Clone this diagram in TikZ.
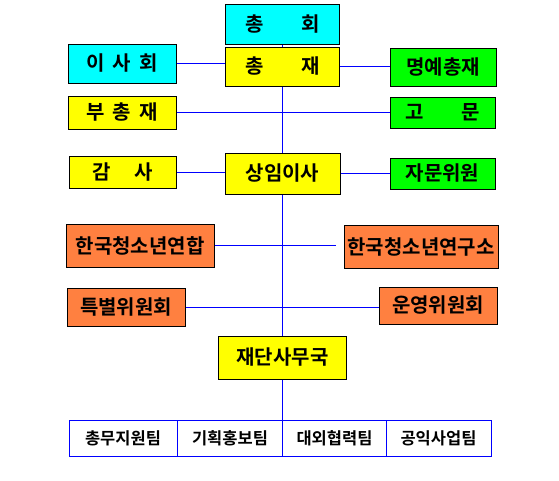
\documentclass[tikz,border=0pt]{standalone}
\usepackage{fontspec}
\newfontfamily\kor{Noto Sans CJK KR Bold}
\usepackage{tikz}
\definecolor{sky}{HTML}{00FFFF}
\definecolor{lemon}{HTML}{FFFF00}
\definecolor{lime}{HTML}{00FF00}
\definecolor{coral}{HTML}{FF8040}
\definecolor{wireblue}{HTML}{0000FF}
\tikzset{
  box/.style={draw=black, line width=1pt, rectangle, inner sep=0pt, align=center, font=\kor\fontsize{20}{22}\selectfont},
  cyanbox/.style={box, fill=sky},
  yellowbox/.style={box, fill=lemon},
  greenbox/.style={box, fill=lime},
  orangebox/.style={box, fill=coral},
  teambox/.style={draw=wireblue, line width=1pt, fill=white, rectangle, inner sep=0pt, minimum height=36, font=\kor\fontsize{16.5}{18}\selectfont},
  wire/.style={draw=wireblue, line width=1pt}
}

\begin{document}
\begin{tikzpicture}[x=1pt, y=-1pt]
\useasboundingbox (0,0) rectangle (559,480);
% centre column
\node[cyanbox, minimum width=114, minimum height=40] (chonghoe) at (282.5,24) {총\hspace{1.9em}회};
\node[yellowbox, minimum width=114, minimum height=39] (chongjae) at (282.5,66.5) {총\hspace{1.9em}재};
\node[yellowbox, minimum width=115, minimum height=41] (sangim) at (282.5,173.5) {상임이사};
\node[yellowbox, minimum width=128, minimum height=43] (jaedan) at (282.5,357.5) {재단사무국};
% left side
\node[cyanbox, minimum width=108, minimum height=39] (isahoe) at (122,63.5) {이\hspace{0.4em}사\hspace{0.4em}회};
\node[yellowbox, minimum width=108, minimum height=33] (buchong) at (122,112.5) {부\hspace{0.4em}총\hspace{0.4em}재};
\node[yellowbox, minimum width=107, minimum height=32] (gamsa) at (122.5,172) {감\hspace{1.2em}사};
\node[orangebox, minimum width=148, minimum height=43] (yeonhap) at (140,245.5) {한국청소년연합};
\node[orangebox, minimum width=118, minimum height=38] (teukbyeol) at (126,307) {특별위원회};
% right side
\node[greenbox, minimum width=106, minimum height=38] (myeongye) at (443,67) {명예총재};
\node[greenbox, minimum width=105, minimum height=31] (gomun) at (442.5,112.5) {고\hspace{1.9em}문};
\node[greenbox, minimum width=105, minimum height=31] (jamun) at (442.5,173.5) {자문위원};
\node[orangebox, minimum width=154, minimum height=43] (yeonguso) at (421,246.5) {한국청소년연구소};
\node[orangebox, minimum width=118, minimum height=37] (unyeong) at (438,305.5) {운영위원회};
% teams
\foreach \i/\x/\w/\n in {1/123/108/총무지원팀, 2/230/105/기획홍보팀, 3/334.5/104/대외협력팀, 4/438.5/105/공익사업팀}
  \node[teambox, minimum width=\w] (team\i) at (\x,438) {\n};

\draw[wire] (chonghoe) -- (chongjae);
\draw[wire] (chongjae) -- (sangim);
\draw[wire] (sangim) -- (jaedan);
\draw[wire] (jaedan.south) -- (jaedan.south |- team2.north);
\draw[wire] (isahoe.east) -- (isahoe.east -| chongjae.west);
\draw[wire] (chongjae.east) -- (chongjae.east -| myeongye.west);
\draw[wire] (buchong.east) -- (buchong.east -| gomun.west);
\draw[wire] (gamsa.east) -- (gamsa.east -| sangim.west);
\draw[wire] (sangim.east) -- (sangim.east -| jamun.west);
\draw[wire, shorten >=8pt] (yeonhap.east) -- (yeonhap.east -| yeonguso.west);
\draw[wire] (teukbyeol.east) -- (teukbyeol.east -| unyeong.west);
\end{tikzpicture}
\end{document}
